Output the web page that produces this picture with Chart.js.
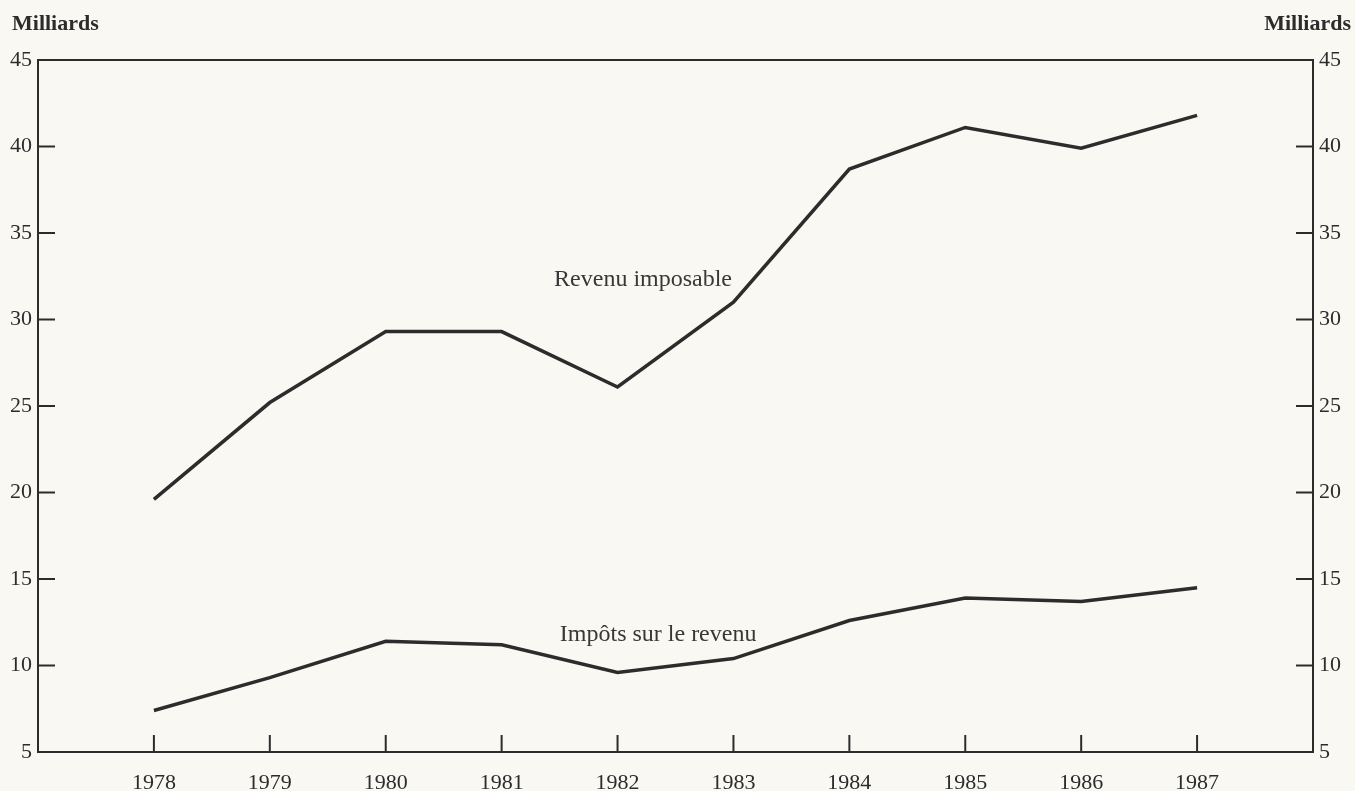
<!DOCTYPE html>
<html lang="fr">
<head>
<meta charset="utf-8">
<title>Revenu imposable et impôts sur le revenu</title>
<script src="https://cdn.jsdelivr.net/npm/chart.js@4/dist/chart.umd.min.js"></script>
<style>
    html, body { margin: 0; padding: 0; background: #f9f8f3; }
    #wrap { width: 1355px; height: 791px; }
</style>
</head>
<body>
<div id="wrap"><canvas id="chart" width="1355" height="791"></canvas></div>
<script>
// ============================================================================
// Data
// ============================================================================

const years = [1978, 1979, 1980, 1981, 1982, 1983, 1984, 1985, 1986, 1987];
const revenuImposable = [19.6, 25.2, 29.3, 29.3, 26.1, 31.0, 38.7, 41.1, 39.9, 41.8];
const impotsRevenu = [7.4, 9.3, 11.4, 11.2, 9.6, 10.4, 12.6, 13.9, 13.7, 14.5];
const yTicks = [5, 10, 15, 20, 25, 30, 35, 40, 45];

const INK = '#2c2c2c';
const FONT = '"Liberation Serif", "Times New Roman", serif';

function toPoints(values) {
    return values.map((v, i) => ({ x: years[i], y: v }));
}

// ============================================================================
// Plugins
// ============================================================================

// Paper background
const paperPlugin = {
    id: 'paper',
    beforeDraw(chart) {
        const { ctx, width, height } = chart;
        ctx.save();
        ctx.fillStyle = '#f9f8f3';
        ctx.fillRect(0, 0, width, height);
        ctx.restore();
    }
};

// Frame top line, inward tick marks, unit titles and series labels
const decorPlugin = {
    id: 'decor',
    afterDraw(chart, args, opts) {
        const { ctx, chartArea: a, scales } = chart;
        const x = scales.x, y = scales.y;
        ctx.save();
        ctx.strokeStyle = INK;
        ctx.lineWidth = 2;

        // top edge of the box
        ctx.beginPath();
        ctx.moveTo(a.left, a.top);
        ctx.lineTo(a.right, a.top);
        ctx.stroke();

        // inward ticks
        ctx.beginPath();
        years.forEach(yr => {
            const px = x.getPixelForValue(yr);
            ctx.moveTo(px, a.bottom);
            ctx.lineTo(px, a.bottom - opts.tickLen);
        });
        yTicks.slice(1, -1).forEach(v => {
            const py = y.getPixelForValue(v);
            ctx.moveTo(a.left, py);
            ctx.lineTo(a.left + opts.tickLen, py);
            ctx.moveTo(a.right, py);
            ctx.lineTo(a.right - opts.tickLen, py);
        });
        ctx.stroke();

        // unit titles
        ctx.fillStyle = INK;
        ctx.font = 'bold 22px ' + FONT;
        ctx.textBaseline = 'alphabetic';
        ctx.textAlign = 'left';
        ctx.fillText('Milliards', 12, 30);
        ctx.textAlign = 'right';
        ctx.fillText('Milliards', 1351, 30);

        // series labels
        ctx.font = '24px ' + FONT;
        ctx.textAlign = 'center';
        ctx.textBaseline = 'middle';
        ctx.fillStyle = '#383838';
        opts.labels.forEach(l => {
            ctx.fillText(l.text, x.getPixelForValue(l.x), y.getPixelForValue(l.y));
        });
        ctx.restore();
    }
};

// ============================================================================
// Chart
// ============================================================================

function yAxis(position, width) {
    return {
        type: 'linear',
        position: position,
        min: 5,
        max: 45,
        afterBuildTicks(scale) {
            scale.ticks = yTicks.map(v => ({ value: v }));
        },
        afterFit(scale) {
            scale.width = width;
        },
        grid: { display: false, drawTicks: false },
        border: { display: true, color: INK, width: 2 },
        ticks: {
            padding: 6,
            color: INK,
            font: { family: FONT, size: 22 },
            callback: v => String(v)
        }
    };
}

function renderChart() {
    const ctx = document.getElementById('chart');

    new Chart(ctx, {
        type: 'line',
        data: {
            datasets: [
                {
                    label: 'Revenu imposable',
                    data: toPoints(revenuImposable),
                    borderColor: INK,
                    borderWidth: 3.5,
                    pointRadius: 0,
                    tension: 0,
                    fill: false
                },
                {
                    label: 'Impôts sur le revenu',
                    data: toPoints(impotsRevenu),
                    borderColor: INK,
                    borderWidth: 3.5,
                    pointRadius: 0,
                    tension: 0,
                    fill: false
                }
            ]
        },
        options: {
            responsive: false,
            animation: false,
            layout: { padding: { top: 60, left: 0, right: 0, bottom: 0 } },
            plugins: {
                legend: { display: false },
                tooltip: { enabled: false },
                decor: {
                    tickLen: 17,
                    labels: [
                        { text: 'Revenu imposable', x: 1982.22, y: 32.3 },
                        { text: 'Impôts sur le revenu', x: 1982.35, y: 11.8 }
                    ]
                }
            },
            scales: {
                x: {
                    type: 'linear',
                    position: 'bottom',
                    min: 1977,
                    max: 1988,
                    afterBuildTicks(scale) {
                        scale.ticks = years.map(v => ({ value: v }));
                    },
                    afterFit(scale) {
                        scale.height = 39;
                    },
                    grid: { display: false, drawTicks: false },
                    border: { display: true, color: INK, width: 2 },
                    ticks: {
                        padding: 18,
                        color: INK,
                        maxRotation: 0,
                        autoSkip: false,
                        font: { family: FONT, size: 22 },
                        callback: v => String(v)
                    }
                },
                y: yAxis('left', 38),
                y2: yAxis('right', 42)
            }
        },
        plugins: [paperPlugin, decorPlugin]
    });
}

document.addEventListener('DOMContentLoaded', renderChart);
</script>
</body>
</html>
